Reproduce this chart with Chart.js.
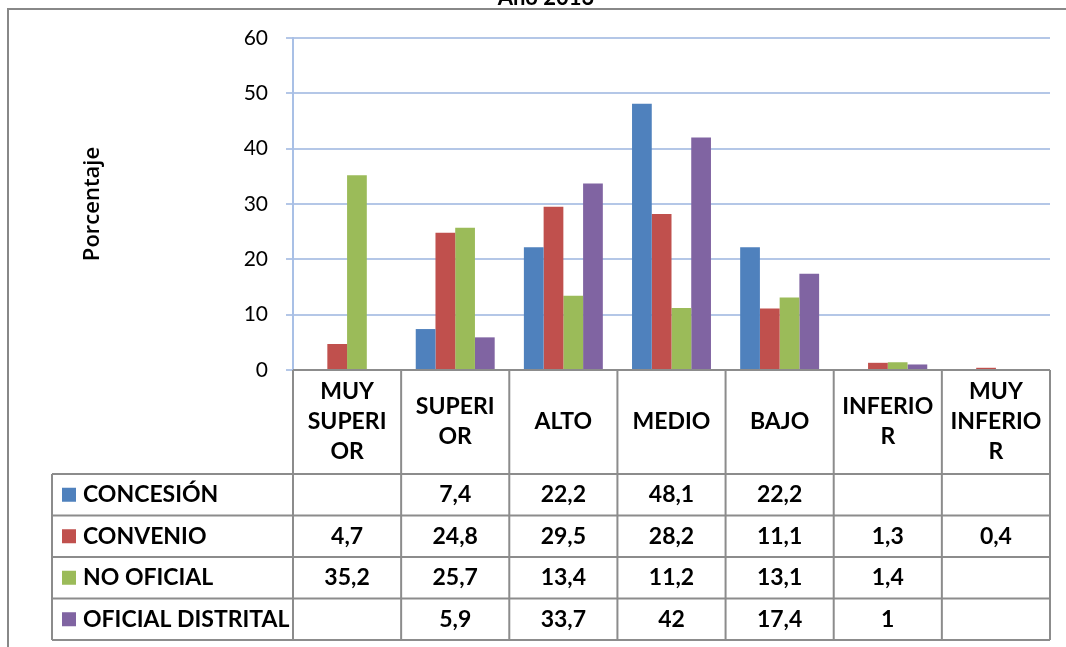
<!DOCTYPE html>
<html>
<head>
<meta charset="utf-8">
<script src="https://cdn.jsdelivr.net/npm/chart.js@4.4.1/dist/chart.umd.min.js"></script>
<style>
	body { margin: 0; background: #fff; }
	#caja { width: 1066px; height: 647px; position: relative; }
</style>
</head>
<body>
<div id="caja"><canvas id="grafico"></canvas></div>
<script>
// datos
var titulo = 'Año 2013';
var categorias = [['MUY', 'SUPERI', 'OR'], ['SUPERI', 'OR'], ['ALTO'], ['MEDIO'], ['BAJO'], ['INFERIO', 'R'], ['MUY', 'INFERIO', 'R']];
var series = ['CONCESIÓN', 'CONVENIO', 'NO OFICIAL', 'OFICIAL DISTRITAL'];
var concesion = [null, 7.4, 22.2, 48.1, 22.2, null, null];
var convenio = [4.7, 24.8, 29.5, 28.2, 11.1, 1.3, 0.4];
var noOficial = [35.2, 25.7, 13.4, 11.2, 13.1, 1.4, null];
var oficialDistrital = [null, 5.9, 33.7, 42, 17.4, 1, null];
var ejeY = { min: 0, max: 60, paso: 10 };
var colores = ['#4f81bd', '#c0504d', '#9bbb59', '#8064a2'];

var valores = [concesion, convenio, noOficial, oficialDistrital];
var fuente = 'Lato, "Liberation Sans", sans-serif';
var gris = '#8c8c8c';

var contexto = document.getElementById('grafico').getContext('2d');

// marco, titulo y tabla de datos
var tablaPlugin = {
	id: 'tabla',
	beforeDraw: function (chart) {
		var c = chart.ctx;
		c.save();
		c.strokeStyle = '#888';
		c.lineWidth = 2;
		c.beginPath();
		c.moveTo(1066, 9);
		c.lineTo(8, 9);
		c.lineTo(8, 647);
		c.stroke();
		c.fillStyle = '#000';
		c.font = 'bold 22px ' + fuente;
		c.textAlign = 'center';
		c.textBaseline = 'alphabetic';
		c.fillText(titulo, 546, 5);
		c.restore();
	},
	afterDraw: function (chart) {
		var c = chart.ctx;
		var x = chart.scales.x;
		var area = chart.chartArea;
		var ancho = (area.right - area.left) / categorias.length;
		var top = area.bottom;
		var cab = 104;
		var fila = 41.5;
		var izq = 52;
		var fondo = top + cab + fila * series.length;

		c.save();
		c.strokeStyle = gris;
		c.lineWidth = 2;
		c.beginPath();
		// horizontales
		c.moveTo(area.left, top); c.lineTo(area.right, top);
		for (var r = 0; r <= series.length; r++) {
			var yy = top + cab + fila * r;
			c.moveTo(izq, yy); c.lineTo(area.right, yy);
		}
		// verticales
		c.moveTo(izq, top + cab); c.lineTo(izq, fondo);
		for (var k = 0; k <= categorias.length; k++) {
			var xx = area.left + ancho * k;
			c.moveTo(xx, top); c.lineTo(xx, fondo);
		}
		c.stroke();

		c.fillStyle = '#000';
		c.font = 'bold 23px ' + fuente;
		c.textAlign = 'center';
		c.textBaseline = 'middle';
		// cabecera
		categorias.forEach(function (lineas, i) {
			var cx = x.getPixelForValue(i);
			var alto = 30;
			var y0 = top + cab / 2 - (lineas.length - 1) * alto / 2;
			lineas.forEach(function (t, j) {
				c.fillText(t, cx, y0 + j * alto);
			});
		});
		// filas
		series.forEach(function (nombre, s) {
			var cy = top + cab + fila * s + fila / 2;
			c.fillStyle = colores[s];
			c.fillRect(62, cy - 7, 14, 14);
			c.fillStyle = '#000';
			c.textAlign = 'left';
			c.fillText(nombre, 83, cy);
			c.textAlign = 'center';
			valores[s].forEach(function (v, i) {
				if (v === null) return;
				c.fillText(String(v).replace('.', ','), x.getPixelForValue(i), cy);
			});
		});
		c.restore();
	}
};

var grafico = new Chart(contexto, {
	type: 'bar',
	data: {
		labels: categorias.map(function (l) { return l.join(''); }),
		datasets: series.map(function (nombre, s) {
			return {
				label: nombre,
				data: valores[s],
				backgroundColor: colores[s],
				borderWidth: 0,
				categoryPercentage: 0.73,
				barPercentage: 1.0
			};
		})
	},
	options: {
		responsive: true,
		maintainAspectRatio: false,
		animation: false,
		layout: { padding: { left: 76, top: 38, right: 16, bottom: 277 } },
		plugins: {
			legend: { display: false },
			tooltip: { enabled: false },
			title: { display: false }
		},
		scales: {
			x: {
				display: false
			},
			y: {
				min: ejeY.min,
				max: ejeY.max,
				ticks: {
					stepSize: ejeY.paso,
					color: '#000',
					padding: 18,
					font: { family: fuente, size: 21 }
				},
				grid: {
					color: '#b4c7e7',
					lineWidth: 2,
					tickLength: 7
				},
				border: { color: '#a9c0e6', width: 2 },
				title: {
					display: true,
					text: 'Porcentaje',
					color: '#000',
					font: { family: '"Open Sans", sans-serif', size: 22, weight: '600' }
				},
				afterFit: function (scale) { scale.width = 293 - 76; }
			}
		}
	},
	plugins: [tablaPlugin]
});
</script>
</body>
</html>
